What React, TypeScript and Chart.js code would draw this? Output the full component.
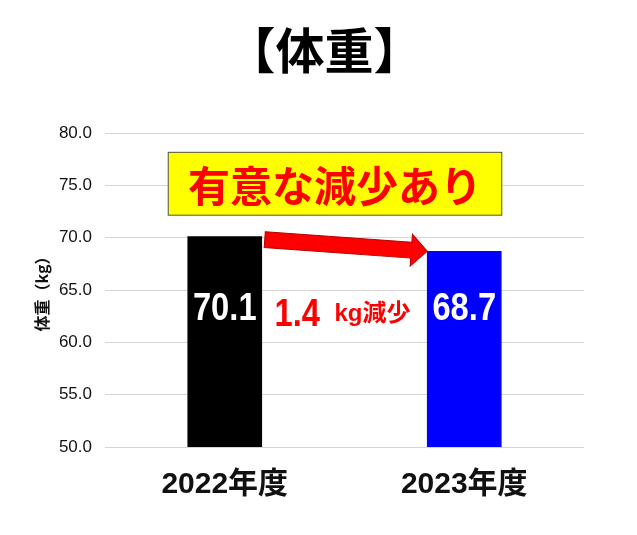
import React, { useEffect, useRef } from "react";
import { Chart, registerables } from "chart.js";

Chart.register(...registerables);

const chartTitle = "【体重】";
const categories = ["2022年度", "2023年度"];
const weights = [70.1, 68.7];
const barColors = ["#000000", "#0000FF"];
const yAxisTitle = "体重（kg）";
const yMin = 50;
const yMax = 80;
const yStep = 5;
const calloutText = "有意な減少あり";
const diffValue = "1.4";
const diffUnit = "kg減少";

const LATIN = '"Liberation Sans", "Noto Sans CJK JP", sans-serif';
const CJK = '"Noto Sans CJK JP", "Liberation Sans", sans-serif';

function drawText(ctx: CanvasRenderingContext2D, text: string, x: number, y: number, font: string, color: string, sx = 1, align: CanvasTextAlign = "center") {
  ctx.save();
  ctx.translate(x, y);
  ctx.scale(sx, 1);
  ctx.font = font;
  ctx.fillStyle = color;
  ctx.textAlign = align;
  ctx.textBaseline = "alphabetic";
  ctx.fillText(text, 0, 0);
  ctx.restore();
}

const annotations = {
  id: "annotations",
  afterDatasetsDraw(chart: any) {
    const ctx: CanvasRenderingContext2D = chart.ctx;
    const ys = chart.scales.y;
    const meta = chart.getDatasetMeta(0);
    const b0 = meta.data[0];
    const b1 = meta.data[1];
    const half0 = b0.width / 2;
    const half1 = b1.width / 2;

    // title
    drawText(ctx, chartTitle, chart.width / 2 + 6, 69, `bold 49px ${CJK}`, "#000000");

    // bar value labels
    meta.data.forEach((bar: any, i: number) => {
      drawText(ctx, weights[i].toFixed(1), bar.x, ys.getPixelForValue(62.15), `bold 38px ${LATIN}`, "#ffffff", 0.86);
    });

    // difference label
    const midX = (b0.x + half0 + b1.x - half1) / 2;
    drawText(ctx, diffValue, midX - 70, ys.getPixelForValue(61.55), `bold 38px ${LATIN}`, "#ff0000", 0.86, "left");
    drawText(ctx, diffUnit, midX - 10, ys.getPixelForValue(62.0), `bold 24px ${LATIN}`, "#ff0000", 1, "left");

    // arrow
    const sx = b0.x + half0 + 3;
    const sy = ys.getPixelForValue(weights[0]) + 3;
    const tx = b1.x - half1;
    const ty = ys.getPixelForValue(weights[1]);
    const ang = Math.atan2(ty - sy, tx - sx);
    const len = Math.hypot(tx - sx, ty - sy);
    const shaft = 8;
    const headL = 16;
    const headW = 16;
    ctx.save();
    ctx.translate(sx, sy);
    ctx.rotate(ang);
    ctx.beginPath();
    ctx.moveTo(0, -shaft);
    ctx.lineTo(len - headL, -shaft);
    ctx.lineTo(len - headL, -headW);
    ctx.lineTo(len, 0);
    ctx.lineTo(len - headL, headW);
    ctx.lineTo(len - headL, shaft);
    ctx.lineTo(0, shaft);
    ctx.closePath();
    ctx.fillStyle = "#ff0000";
    ctx.fill();
    ctx.strokeStyle = "#b00000";
    ctx.lineWidth = 1;
    ctx.stroke();
    ctx.restore();

    // callout box
    const bx0 = b0.x - half0 - 20;
    const bx1 = b1.x + half1 + 1;
    const by0 = ys.getPixelForValue(78.2);
    const by1 = ys.getPixelForValue(72.1);
    ctx.save();
    ctx.fillStyle = "#ffff00";
    ctx.fillRect(bx0, by0, bx1 - bx0, by1 - by0);
    ctx.strokeStyle = "#555555";
    ctx.lineWidth = 1;
    ctx.strokeRect(bx0 + 0.5, by0 + 0.5, bx1 - bx0 - 1, by1 - by0 - 1);
    ctx.restore();
    drawText(ctx, calloutText, (bx0 + bx1) / 2, ys.getPixelForValue(73.45), `bold 42px ${CJK}`, "#ff0000");
  },
};

export default function App() {
  const ref = useRef<HTMLCanvasElement>(null);
  useEffect(() => {
    if (!ref.current) return;
    const chart = new Chart(ref.current, {
      type: "bar",
      data: {
        labels: categories,
        datasets: [
          {
            data: weights,
            backgroundColor: barColors,
            borderWidth: 0,
            barThickness: 74,
          },
        ],
      },
      options: {
        animation: false,
        responsive: true,
        maintainAspectRatio: false,
        layout: { padding: { left: 32, right: 53, top: 133, bottom: 12 } },
        plugins: {
          legend: { display: false },
          tooltip: { enabled: false },
          title: { display: false },
        },
        scales: {
          x: {
            grid: { display: false, drawTicks: false },
            border: { display: false },
            ticks: {
              color: "#111111",
              padding: 20,
              font: { family: LATIN, size: 30, weight: "bold" },
            },
          },
          y: {
            min: yMin,
            max: yMax,
            afterFit: (s: any) => {
              s.width = 73;
            },
            grid: { color: "#d4d4d4", lineWidth: 1, drawTicks: false },
            border: { display: false },
            ticks: {
              stepSize: yStep,
              padding: 13,
              color: "#111111",
              font: { family: LATIN, size: 17 },
              callback: (v: any) => Number(v).toFixed(1),
            },
            title: {
              display: true,
              text: yAxisTitle,
              color: "#111111",
              font: { family: CJK, size: 16, weight: "bold" },
              padding: { top: 0, bottom: 0 },
            },
          },
        },
      },
      plugins: [annotations],
    });
    return () => chart.destroy();
  }, []);
  return (
    <div style={{ position: "fixed", top: 0, left: 0, width: 637, height: 535, background: "#ffffff" }}>
      <canvas ref={ref} />
    </div>
  );
}
